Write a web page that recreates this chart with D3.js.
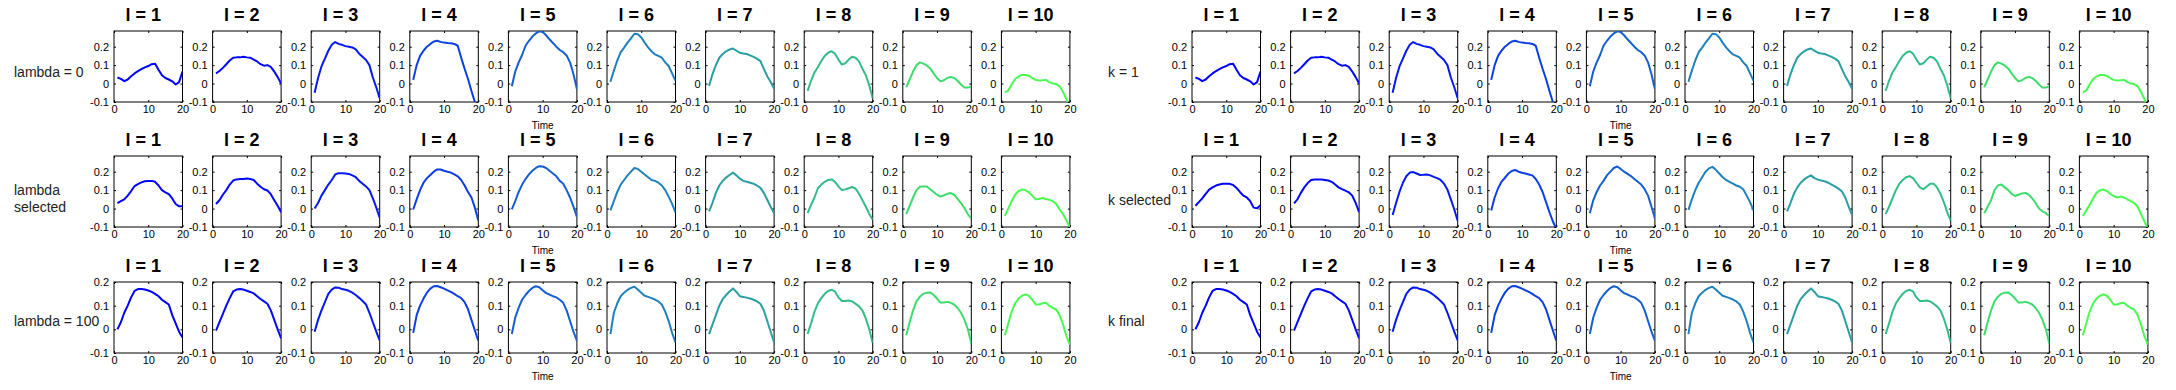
<!DOCTYPE html>
<html><head><meta charset="utf-8">
<script src="https://cdn.jsdelivr.net/npm/d3@7"></script>
<style>body{margin:0;background:#fff;} svg{display:block;}</style>
</head><body><svg id="c" width="2176" height="390"></svg>
<script>
// ---------- data ----------
const timePoints = [1,2,3,4,5,6,7,8,9,10,11,12,13,14,15,16,17,18,19,20];
const xTicks = [0, 10, 20];
const yTicks = [-0.1, 0, 0.1, 0.2];
const yTickLabels = ["-0.1", "0", "0.1", "0.2"];
const levelTitles = ["l = 1","l = 2","l = 3","l = 4","l = 5","l = 6","l = 7","l = 8","l = 9","l = 10"];
const lineColors = ["#0000ff","#0208f8","#0418f0","#0c3ee4","#165ed2","#2080bc","#2a9ea2","#34bc88","#3edc6c","#48fc50"];
const leftRowLabels = [["lambda = 0"], ["lambda", "selected"], ["lambda = 100"]];
const rightRowLabels = [["k = 1"], ["k selected"], ["k final"]];
const rowYMax = [0.285, 0.285, 0.2];
const timeLabel = "Time";

const curvesLambda0 = [
  [0.033,0.025,0.013,0.022,0.04,0.055,0.067,0.078,0.088,0.095,0.105,0.108,0.075,0.045,0.03,0.022,0.012,-0.005,0.008,0.065],
  [0.055,0.068,0.085,0.105,0.125,0.14,0.142,0.142,0.145,0.142,0.14,0.13,0.12,0.105,0.097,0.1,0.09,0.065,0.035,0.0],
  [-0.05,0.03,0.093,0.135,0.178,0.21,0.225,0.215,0.21,0.203,0.2,0.196,0.185,0.162,0.145,0.128,0.1,0.033,-0.02,-0.08],
  [0.02,0.1,0.15,0.178,0.2,0.215,0.228,0.232,0.226,0.222,0.22,0.219,0.215,0.205,0.14,0.08,0.025,-0.04,-0.1,-0.16],
  [-0.015,0.065,0.115,0.155,0.205,0.232,0.255,0.272,0.283,0.28,0.262,0.24,0.22,0.2,0.182,0.17,0.152,0.115,0.05,-0.03],
  [0.01,0.07,0.125,0.17,0.195,0.222,0.245,0.27,0.268,0.25,0.222,0.196,0.175,0.158,0.15,0.14,0.115,0.095,0.055,0.015],
  [-0.013,0.05,0.1,0.14,0.16,0.175,0.185,0.19,0.178,0.167,0.163,0.16,0.153,0.145,0.135,0.122,0.08,0.04,0.008,-0.028],
  [-0.04,0.015,0.06,0.09,0.122,0.15,0.167,0.175,0.162,0.13,0.103,0.11,0.13,0.145,0.14,0.12,0.08,0.045,-0.01,-0.08],
  [-0.02,0.022,0.065,0.1,0.115,0.108,0.098,0.082,0.055,0.03,0.012,0.018,0.03,0.036,0.03,0.015,-0.005,-0.022,-0.022,-0.015],
  [-0.048,-0.038,-0.005,0.025,0.038,0.047,0.046,0.042,0.03,0.02,0.017,0.018,0.02,0.008,0.0,-0.003,-0.015,-0.045,-0.085,-0.13]
];
const curvesLambdaSelected = [
  [0.03,0.04,0.05,0.07,0.095,0.122,0.133,0.142,0.148,0.15,0.15,0.145,0.125,0.1,0.088,0.078,0.055,0.025,0.012,0.012],
  [0.025,0.045,0.075,0.1,0.13,0.152,0.158,0.16,0.16,0.163,0.16,0.155,0.135,0.118,0.105,0.098,0.078,0.045,0.015,-0.02],
  [0.0,0.03,0.07,0.1,0.13,0.155,0.185,0.192,0.192,0.19,0.188,0.18,0.17,0.15,0.135,0.12,0.1,0.055,0.005,-0.05],
  [-0.005,0.05,0.1,0.14,0.165,0.182,0.2,0.212,0.212,0.205,0.2,0.195,0.185,0.175,0.155,0.125,0.09,0.06,0.005,-0.065],
  [-0.005,0.04,0.09,0.13,0.16,0.185,0.205,0.22,0.23,0.228,0.22,0.205,0.19,0.175,0.15,0.135,0.1,0.06,0.01,-0.045],
  [-0.01,0.04,0.09,0.13,0.155,0.18,0.2,0.22,0.215,0.2,0.185,0.17,0.155,0.15,0.14,0.125,0.1,0.065,0.025,-0.02],
  [-0.015,0.03,0.085,0.125,0.15,0.168,0.182,0.195,0.18,0.162,0.15,0.145,0.14,0.135,0.125,0.112,0.085,0.048,0.01,-0.025],
  [-0.025,0.02,0.06,0.11,0.13,0.145,0.155,0.158,0.145,0.12,0.1,0.104,0.11,0.117,0.108,0.08,0.045,0.01,-0.03,-0.06],
  [-0.03,0.015,0.06,0.1,0.118,0.12,0.12,0.105,0.09,0.075,0.065,0.072,0.08,0.084,0.075,0.052,0.03,0.002,-0.03,-0.055],
  [-0.04,0.0,0.04,0.075,0.095,0.103,0.1,0.088,0.07,0.05,0.052,0.057,0.052,0.048,0.04,0.025,-0.005,-0.03,-0.065,-0.1]
];
const curvesLambda100 = [
  [0.0,0.03,0.07,0.1,0.135,0.162,0.17,0.17,0.168,0.164,0.158,0.15,0.14,0.125,0.115,0.105,0.06,0.025,-0.01,-0.035],
  [-0.005,0.03,0.065,0.1,0.132,0.16,0.168,0.17,0.168,0.163,0.158,0.152,0.14,0.128,0.118,0.108,0.08,0.04,0.0,-0.038],
  [-0.01,0.04,0.08,0.115,0.15,0.168,0.177,0.176,0.17,0.167,0.163,0.155,0.145,0.133,0.12,0.105,0.07,0.03,-0.01,-0.047],
  [-0.015,0.06,0.1,0.13,0.155,0.172,0.182,0.183,0.178,0.172,0.165,0.158,0.15,0.14,0.132,0.115,0.085,0.04,-0.005,-0.048],
  [-0.02,0.05,0.092,0.125,0.145,0.162,0.175,0.182,0.178,0.165,0.153,0.147,0.14,0.135,0.125,0.112,0.08,0.035,-0.01,-0.048],
  [-0.02,0.07,0.11,0.14,0.155,0.167,0.175,0.18,0.168,0.155,0.142,0.137,0.132,0.126,0.118,0.105,0.075,0.035,-0.015,-0.055],
  [-0.02,0.02,0.06,0.1,0.128,0.145,0.16,0.173,0.158,0.14,0.137,0.134,0.13,0.125,0.118,0.108,0.08,0.035,-0.01,-0.055],
  [-0.02,0.025,0.075,0.11,0.132,0.15,0.162,0.167,0.16,0.135,0.12,0.12,0.122,0.118,0.108,0.097,0.08,0.045,0.0,-0.058],
  [-0.025,0.03,0.08,0.118,0.138,0.15,0.155,0.156,0.145,0.13,0.113,0.113,0.116,0.112,0.105,0.09,0.07,0.04,0.0,-0.06],
  [-0.025,0.025,0.075,0.11,0.13,0.142,0.148,0.142,0.125,0.105,0.105,0.11,0.112,0.1,0.09,0.084,0.06,0.02,-0.03,-0.065]
];
const curvesK1 = [
  [0.033,0.025,0.013,0.022,0.04,0.055,0.067,0.078,0.088,0.095,0.105,0.108,0.075,0.045,0.03,0.022,0.012,-0.005,0.008,0.065],
  [0.055,0.068,0.085,0.105,0.125,0.14,0.142,0.142,0.145,0.142,0.14,0.13,0.12,0.105,0.097,0.1,0.09,0.065,0.035,0.0],
  [-0.05,0.03,0.093,0.135,0.178,0.21,0.225,0.215,0.21,0.203,0.2,0.196,0.185,0.162,0.145,0.128,0.1,0.033,-0.02,-0.08],
  [0.02,0.1,0.15,0.178,0.2,0.215,0.228,0.232,0.226,0.222,0.22,0.219,0.215,0.205,0.14,0.08,0.025,-0.04,-0.1,-0.16],
  [-0.015,0.065,0.115,0.155,0.205,0.232,0.255,0.272,0.283,0.28,0.262,0.24,0.22,0.2,0.182,0.17,0.152,0.115,0.05,-0.03],
  [0.01,0.07,0.125,0.17,0.195,0.222,0.245,0.27,0.268,0.25,0.222,0.196,0.175,0.158,0.15,0.14,0.115,0.095,0.055,0.015],
  [-0.013,0.05,0.1,0.14,0.16,0.175,0.185,0.19,0.178,0.167,0.163,0.16,0.153,0.145,0.135,0.122,0.08,0.04,0.008,-0.028],
  [-0.04,0.015,0.06,0.09,0.122,0.15,0.167,0.175,0.162,0.13,0.103,0.11,0.13,0.145,0.14,0.12,0.08,0.045,-0.01,-0.08],
  [-0.02,0.022,0.065,0.1,0.115,0.108,0.098,0.082,0.055,0.03,0.012,0.018,0.03,0.036,0.03,0.015,-0.005,-0.022,-0.022,-0.015],
  [-0.048,-0.038,-0.005,0.025,0.038,0.047,0.046,0.042,0.03,0.02,0.017,0.018,0.02,0.008,0.0,-0.003,-0.015,-0.045,-0.085,-0.13]
];
const curvesKSelected = [
  [0.015,0.035,0.055,0.08,0.103,0.115,0.125,0.13,0.134,0.135,0.134,0.128,0.112,0.09,0.07,0.06,0.04,0.005,0.002,0.018],
  [0.028,0.05,0.085,0.115,0.138,0.155,0.158,0.158,0.157,0.155,0.152,0.145,0.13,0.115,0.105,0.097,0.088,0.07,0.03,-0.02],
  [-0.035,0.03,0.09,0.14,0.175,0.195,0.198,0.19,0.182,0.183,0.185,0.18,0.172,0.165,0.155,0.135,0.103,0.05,-0.005,-0.066],
  [-0.01,0.06,0.11,0.145,0.167,0.19,0.204,0.209,0.2,0.194,0.19,0.185,0.18,0.16,0.13,0.09,0.035,-0.02,-0.07,-0.11],
  [-0.025,0.045,0.09,0.125,0.15,0.18,0.2,0.22,0.228,0.215,0.2,0.188,0.176,0.16,0.145,0.13,0.105,0.07,0.01,-0.053],
  [-0.007,0.05,0.1,0.14,0.17,0.2,0.218,0.226,0.21,0.19,0.17,0.155,0.145,0.135,0.125,0.118,0.105,0.07,0.035,-0.01],
  [-0.015,0.03,0.08,0.115,0.14,0.158,0.17,0.18,0.165,0.157,0.152,0.148,0.14,0.13,0.12,0.108,0.094,0.06,0.01,-0.035],
  [-0.03,0.01,0.055,0.1,0.135,0.155,0.17,0.176,0.165,0.14,0.115,0.105,0.12,0.135,0.135,0.115,0.08,0.035,-0.02,-0.065],
  [-0.025,0.01,0.045,0.1,0.125,0.13,0.115,0.1,0.08,0.068,0.075,0.082,0.085,0.075,0.055,0.03,0.0,-0.015,-0.025,-0.04],
  [-0.04,-0.01,0.02,0.055,0.085,0.1,0.103,0.095,0.08,0.068,0.06,0.065,0.06,0.05,0.04,0.03,0.01,-0.03,-0.07,-0.11]
];
const curvesKFinal = [
  [0.0,0.03,0.07,0.1,0.135,0.162,0.17,0.17,0.168,0.164,0.158,0.15,0.14,0.125,0.115,0.105,0.06,0.025,-0.01,-0.035],
  [-0.005,0.03,0.065,0.1,0.132,0.16,0.168,0.17,0.168,0.163,0.158,0.152,0.14,0.128,0.118,0.108,0.08,0.04,0.0,-0.038],
  [-0.01,0.04,0.08,0.115,0.15,0.168,0.177,0.176,0.17,0.167,0.163,0.155,0.145,0.133,0.12,0.105,0.07,0.03,-0.01,-0.047],
  [-0.015,0.06,0.1,0.13,0.155,0.172,0.182,0.183,0.178,0.172,0.165,0.158,0.15,0.14,0.132,0.115,0.085,0.04,-0.005,-0.048],
  [-0.02,0.05,0.092,0.125,0.145,0.162,0.175,0.182,0.178,0.165,0.153,0.147,0.14,0.135,0.125,0.112,0.08,0.035,-0.01,-0.048],
  [-0.02,0.07,0.11,0.14,0.155,0.167,0.175,0.18,0.168,0.155,0.142,0.137,0.132,0.126,0.118,0.105,0.075,0.035,-0.015,-0.055],
  [-0.02,0.02,0.06,0.1,0.128,0.145,0.16,0.173,0.158,0.14,0.137,0.134,0.13,0.125,0.118,0.108,0.08,0.035,-0.01,-0.055],
  [-0.02,0.025,0.075,0.11,0.132,0.15,0.162,0.167,0.16,0.135,0.12,0.12,0.122,0.118,0.108,0.097,0.08,0.045,0.0,-0.058],
  [-0.025,0.03,0.08,0.118,0.138,0.15,0.155,0.156,0.145,0.13,0.113,0.113,0.116,0.112,0.105,0.09,0.07,0.04,0.0,-0.06],
  [-0.025,0.025,0.075,0.11,0.13,0.142,0.148,0.142,0.125,0.105,0.105,0.11,0.112,0.1,0.09,0.084,0.06,0.02,-0.03,-0.065]
];

// ---------- layout ----------
const panels = [
  {x0: 114, labelX: 14, labels: leftRowLabels, labelY: [[77], [195, 212], [326]], rows: [curvesLambda0, curvesLambdaSelected, curvesLambda100]},
  {x0: 1192, labelX: 1108, labels: rightRowLabels, labelY: [[77], [205], [326]], rows: [curvesK1, curvesKSelected, curvesKFinal]}
];
const colStep = 98.6, plotW = 68.5, plotH = 71;
const rowTop = [31, 156, 282];
const FONT = "'Liberation Sans', Arial, Helvetica, sans-serif";

const svg = d3.select("#c");
svg.append("defs").append("clipPath").attr("id", "clip")
  .append("rect").attr("x", 0).attr("y", 0).attr("width", plotW).attr("height", plotH);

const x = d3.scaleLinear().domain([0, 20]).range([0, plotW]);

panels.forEach(p => {
  p.rows.forEach((curves, r) => {
    const y = d3.scaleLinear().domain([-0.1, rowYMax[r]]).range([plotH, 0]);
    // row label
    const lab = svg.append("text").attr("font-family", FONT).attr("font-size", 14).attr("fill", "#222");
    p.labels[r].forEach((t, i) => {
      lab.append("tspan").attr("x", p.labelX).attr("y", p.labelY[r][i]).text(t);
    });
    curves.forEach((vals, c) => {
      const g = svg.append("g").attr("transform", `translate(${p.x0 + c * colStep},${rowTop[r]})`);
      g.append("rect").attr("width", plotW).attr("height", plotH)
        .attr("fill", "#fff").attr("stroke", "#000").attr("stroke-width", 1);
      const ax = [
        g.append("g").attr("transform", `translate(0,${plotH})`)
          .call(d3.axisBottom(x).tickValues(xTicks).tickSize(-2).tickPadding(3).tickFormat(d3.format("d"))),
        g.append("g")
          .call(d3.axisLeft(y).tickValues(yTicks).tickSize(-2).tickPadding(5).tickFormat((d, i) => yTickLabels[i])),
        g.append("g").attr("transform", `translate(${plotW},0)`)
          .call(d3.axisRight(y).tickValues(yTicks).tickSize(-2).tickFormat("")),
        g.append("g")
          .call(d3.axisTop(x).tickValues(xTicks).tickSize(-2).tickFormat(""))
      ];
      ax.forEach(a => {
        a.select(".domain").remove();
        a.attr("font-family", FONT).attr("font-size", 11);
        a.selectAll("text").attr("fill", "#000");
        a.selectAll("line").attr("stroke", "#000");
      });
      const line = d3.line().x((d, i) => x(timePoints[i])).y(d => y(d));
      g.append("path").datum(vals).attr("d", line)
        .attr("fill", "none").attr("stroke", lineColors[c]).attr("stroke-width", 2)
        .attr("stroke-linejoin", "round").attr("clip-path", "url(#clip)");
      g.append("text").attr("x", plotW / 2 - 5).attr("y", -10)
        .attr("text-anchor", "middle").attr("font-family", FONT).attr("font-weight", "bold")
        .attr("font-size", 18).attr("fill", "#000").text(levelTitles[c]);
      if (c === 4) {
        g.append("text").attr("x", plotW / 2).attr("y", plotH + 27)
          .attr("text-anchor", "middle").attr("font-family", FONT)
          .attr("font-size", 10).attr("fill", "#000").text(timeLabel);
      }
    });
  });
});
</script></body></html>
